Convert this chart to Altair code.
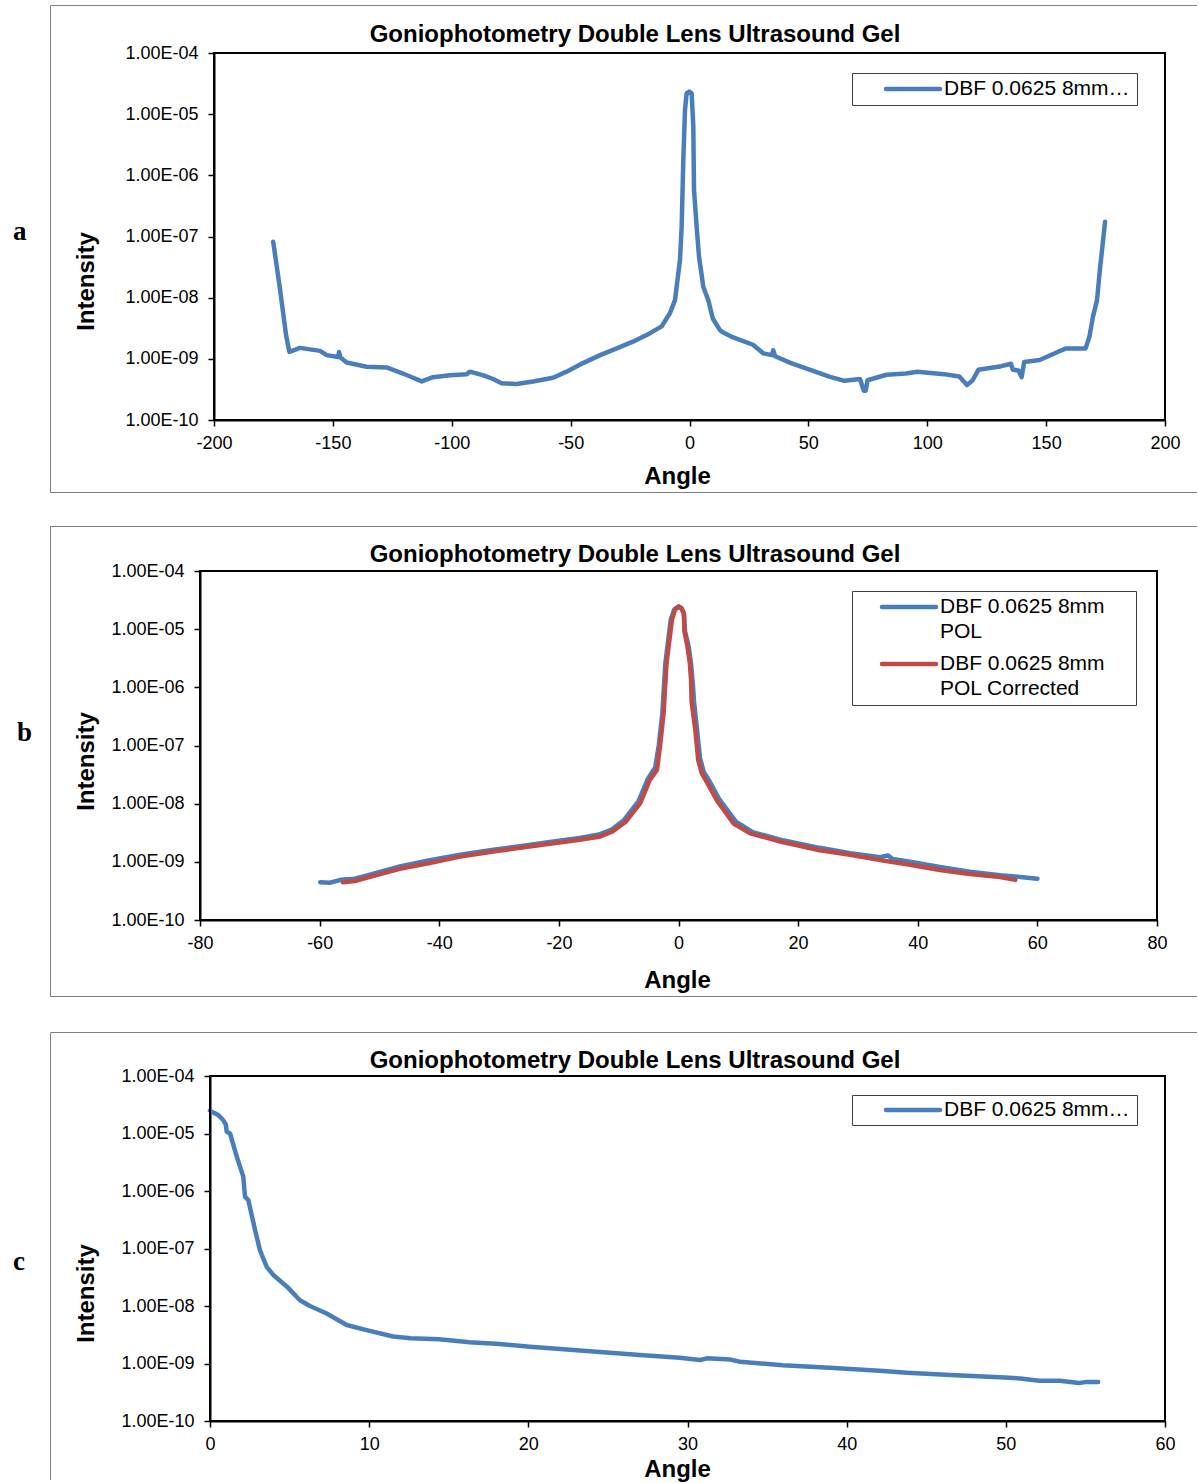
import altair as alt
import pandas as pd

FONT = "Liberation Sans"
SERIF = "Liberation Serif"
BLUE = "#4A7EBB"
RED = "#BE4B48"
FRAME = "#808080"
LEGEND_EDGE = "#3F3F3F"
PAGE_W = 1199
ORIGIN = 200          # common left edge of the three plot groups
PLOT_RIGHT = 1165     # widest right edge of the plot areas
TITLE = "Goniophotometry Double Lens Ultrasound Gel"
POL = "DBF 0.0625 8mm POL"
POL_CORR = "DBF 0.0625 8mm POL Corrected"
SERIES = [POL, POL_CORR]
SERIES_COLORS = [BLUE, RED]

Y_TICKS = [1e-10, 1e-9, 1e-8, 1e-7, 1e-6, 1e-5, 1e-4]
Y_LABEL = ("'1.00E-' + (round(-log(datum.value) / LN10) < 10 ? '0' : '') "
           "+ round(-log(datum.value) / LN10)")

# --- (a) full scan, -180..180 deg ---
a_angle = [-175.1, -172.2, -169.7, -168.3, -163.8, -155.4, -152.6, -147.8, -147.4, -146.8,
           -144.2, -135.8, -127.4, -120.5, -116.3, -112.6, -107.9, -100.7, -93.7, -92.3,
           -86.7, -82.6, -79.0, -72.7, -65.8, -57.4, -51.7, -44.8, -37.6, -30.6,
           -23.8, -16.6, -11.7, -8.2, -6.1, -4.0, -3.3, -2.6, -1.9, -1.2,
           -0.1, 0.9, 1.6, 1.9, 3.0, 4.0, 5.8, 7.9, 9.8, 12.8,
           13.8, 17.8, 26.7, 31.0, 34.7, 35.2, 36.0, 42.7, 50.8, 58.8,
           65.2, 71.7, 73.3, 74.1, 74.9, 82.9, 91.0, 95.8, 107.0, 113.5,
           116.7, 119.1, 121.5, 131.2, 135.2, 136.0, 138.4, 139.7, 140.8, 147.3,
           155.3, 158.5, 166.6, 168.2, 169.7, 171.4, 172.6, 174.8]
a_intensity = [8.22e-8, 1.35e-8, 2.45e-9, 1.30e-9, 1.51e-9, 1.35e-9, 1.15e-9, 1.07e-9, 1.29e-9, 1.05e-9,
               8.71e-10, 7.41e-10, 7.24e-10, 5.75e-10, 4.90e-10, 4.27e-10, 5.01e-10, 5.37e-10, 5.62e-10, 6.17e-10,
               5.37e-10, 4.68e-10, 3.98e-10, 3.89e-10, 4.27e-10, 4.90e-10, 6.17e-10, 8.51e-10, 1.15e-9, 1.48e-9,
               1.91e-9, 2.63e-9, 3.39e-9, 5.62e-9, 9.12e-9, 4.17e-8, 1.45e-7, 1.78e-6, 1.17e-5, 2.19e-5,
               2.34e-5, 2.19e-5, 6.31e-6, 5.75e-7, 1.45e-7, 4.68e-8, 1.51e-8, 9.12e-9, 4.57e-9, 2.95e-9,
               2.75e-9, 2.29e-9, 1.70e-9, 1.23e-9, 1.15e-9, 1.38e-9, 1.10e-9, 8.51e-10, 6.61e-10, 5.13e-10,
               4.37e-10, 4.68e-10, 3.02e-10, 3.02e-10, 4.47e-10, 5.50e-10, 5.75e-10, 6.17e-10, 5.62e-10, 5.13e-10,
               3.72e-10, 4.47e-10, 6.61e-10, 7.59e-10, 8.32e-10, 6.61e-10, 6.46e-10, 5.01e-10, 8.91e-10, 9.55e-10,
               1.32e-9, 1.48e-9, 1.48e-9, 2.29e-9, 4.90e-9, 9.12e-9, 2.82e-8, 1.74e-7]

# --- (b) measured vs corrected, -60..60 deg ---
b_pol_angle = [-59.9, -58.3, -56.5, -54.1, -51.6, -46.6, -41.6, -36.5, -31.5, -26.5,
               -21.5, -16.5, -13.3, -11.1, -9.1, -6.7, -5.1, -3.9, -3.3, -2.7,
               -2.2, -1.3, -0.7, 0.0, 0.5, 0.9, 1.1, 1.7, 2.1, 2.4,
               2.6, 3.1, 3.6, 4.2, 5.1, 6.8, 9.6, 12.4, 17.0, 23.6,
               28.7, 33.7, 35.0, 35.8, 38.7, 43.7, 48.7, 53.8, 57.1, 60.0]
b_pol_intensity = [4.47e-10, 4.37e-10, 4.90e-10, 5.13e-10, 6.03e-10, 8.32e-10, 1.07e-9, 1.32e-9, 1.58e-9, 1.86e-9,
                   2.19e-9, 2.57e-9, 2.95e-9, 3.63e-9, 5.25e-9, 1.10e-8, 2.69e-8, 4.17e-8, 1.00e-7, 3.55e-7,
                   2.57e-6, 1.45e-5, 2.19e-5, 2.45e-5, 2.29e-5, 1.86e-5, 9.12e-6, 5.01e-6, 2.57e-6, 1.12e-6,
                   5.62e-7, 1.86e-7, 6.03e-8, 3.55e-8, 2.51e-8, 1.20e-8, 4.90e-9, 3.24e-9, 2.40e-9, 1.74e-9,
                   1.41e-9, 1.20e-9, 1.29e-9, 1.12e-9, 1.00e-9, 8.13e-10, 6.76e-10, 5.89e-10, 5.50e-10, 5.13e-10]

b_corr_angle = [-56.1, -54.1, -51.6, -46.6, -41.6, -36.5, -31.5, -26.5, -21.5, -16.5,
                -13.3, -11.1, -8.8, -6.4, -4.8, -3.6, -3.1, -2.5, -2.0, -1.1,
                -0.6, 0.0, 0.5, 0.9, 1.0, 1.5, 1.9, 2.1, 2.2, 2.8,
                3.3, 3.9, 4.7, 6.4, 9.2, 12.0, 17.0, 23.6, 28.7, 33.7,
                38.7, 43.7, 48.7, 53.8, 56.3]
b_corr_intensity = [4.47e-10, 4.68e-10, 5.50e-10, 7.59e-10, 9.55e-10, 1.23e-9, 1.48e-9, 1.74e-9, 2.04e-9, 2.40e-9,
                    2.69e-9, 3.31e-9, 4.90e-9, 1.02e-8, 2.57e-8, 3.80e-8, 9.55e-8, 3.55e-7, 2.57e-6, 1.45e-5,
                    2.14e-5, 2.45e-5, 2.29e-5, 1.86e-5, 9.12e-6, 5.01e-6, 2.57e-6, 1.35e-6, 5.62e-7, 1.86e-7,
                    5.62e-8, 3.31e-8, 2.40e-8, 1.15e-8, 4.57e-9, 3.09e-9, 2.24e-9, 1.58e-9, 1.32e-9, 1.07e-9,
                    8.91e-10, 7.24e-10, 6.17e-10, 5.50e-10, 4.90e-10]

# --- (c) one-sided scan, 0..56 deg ---
c_angle = [0.0, 0.1, 0.52, 0.84, 1.0, 1.05, 1.26, 1.68, 2.09, 2.2,
           2.41, 2.83, 3.14, 3.56, 3.98, 4.82, 5.65, 6.28, 7.33, 8.59,
           9.84, 11.5, 12.6, 14.4, 16.3, 18.2, 20.1, 22.0, 24.5, 27.0,
           29.5, 30.8, 31.2, 32.7, 33.3, 36.0, 39.2, 42.3, 43.8, 46.5,
           49.6, 50.9, 52.1, 53.4, 54.6, 55.1, 55.8]
c_intensity = [2.51e-5, 2.40e-5, 2.09e-5, 1.70e-5, 1.41e-5, 1.07e-5, 1.00e-5, 3.98e-6, 1.78e-6, 7.94e-7,
               6.92e-7, 2.09e-7, 9.33e-8, 4.79e-8, 3.47e-8, 2.19e-8, 1.26e-8, 1.00e-8, 7.41e-9, 4.68e-9,
               3.80e-9, 2.95e-9, 2.75e-9, 2.63e-9, 2.34e-9, 2.19e-9, 1.95e-9, 1.78e-9, 1.58e-9, 1.41e-9,
               1.26e-9, 1.15e-9, 1.23e-9, 1.17e-9, 1.07e-9, 9.33e-10, 8.32e-10, 7.41e-10, 6.92e-10, 6.31e-10,
               5.75e-10, 5.50e-10, 5.01e-10, 5.01e-10, 4.57e-10, 4.79e-10, 4.79e-10]

ONE = pd.DataFrame({"k": [0]})


def px(abs_x):
    """Page x position -> x inside a plot group."""
    return abs_x - ORIGIN


def panel(series, x_domain, x_step, g, legend, letter):
    """One chart sheet: plot area, grey sheet frame, title, letter and legend box."""
    L, T, W, H = g["left"], g["top"], g["width"], g["height"]
    B = T + H
    rows = []
    for name, angles, values in series:
        rows += [{"Angle": a, "Intensity": v, "Series": name} for a, v in zip(angles, values)]
    df = pd.DataFrame(rows)

    base = alt.Chart(ONE)
    layers = []

    # transparent box that fixes the sheet's extent on the page
    # (inset by 1px: the renderer pads mark bounds by one pixel)
    layers.append(base.mark_rect(opacity=0).encode(
        x=alt.value(px(0) + 1), x2=alt.value(px(PAGE_W) - 1),
        y=alt.value(g["band"][0] - T + 1), y2=alt.value(g["band"][1] - T - 1)))

    # grey sheet frame; its right edge runs off the page
    ft = g["frame"][0] - T + 0.5
    fl = px(50) + 0.5
    fr = px(PAGE_W) - 2
    fb = (g["frame"][1] - T + 0.5) if g["frame"][1] is not None else (g["band"][1] - T - 3)
    rule = dict(color=FRAME, strokeWidth=1)
    layers.append(base.mark_rule(**rule).encode(
        x=alt.value(fl), x2=alt.value(fr), y=alt.value(ft)))
    layers.append(base.mark_rule(**rule).encode(
        x=alt.value(fl), y=alt.value(ft), y2=alt.value(fb)))
    if g["frame"][1] is not None:
        layers.append(base.mark_rule(**rule).encode(
            x=alt.value(fl), x2=alt.value(fr), y=alt.value(fb)))

    layers.append(base.mark_text(
        text=TITLE, font=FONT, fontSize=24, fontWeight="bold", color="black",
        align="center", baseline="alphabetic").encode(
        x=alt.value(px(635)), y=alt.value(g["title_y"] - T)))

    layers.append(base.mark_text(
        text=letter, font=SERIF, fontSize=27, fontWeight="bold", color="black",
        align="left", baseline="alphabetic").encode(
        x=alt.value(px(g["letter"][0])), y=alt.value(g["letter"][1] - T)))

    x_ticks = list(range(x_domain[0], x_domain[1] + 1, x_step))
    lines = alt.Chart(df).mark_line(
        strokeWidth=4.5, strokeCap="round", strokeJoin="round").encode(
        x=alt.X("Angle:Q",
                scale=alt.Scale(domain=x_domain, range=[px(L), px(L + W)],
                                nice=False, zero=False),
                axis=alt.Axis(values=x_ticks, labelExpr="'' + datum.value",
                              labelFlush=False, labelOverlap=False, labelPadding=8,
                              title="Angle", titleX=px(677), titleY=g["xtitle_y"] - B,
                              titleAlign="center", titleBaseline="alphabetic")),
        y=alt.Y("Intensity:Q",
                scale=alt.Scale(type="log", domain=[1e-10, 1e-4], nice=False),
                axis=alt.Axis(values=Y_TICKS, labelExpr=Y_LABEL, labelOverlap=False,
                              labelPadding=10, offset=-px(L),
                              title="Intensity", titleAngle=270,
                              titleX=93 - L, titleY=g["ytitle_y"] - T,
                              titleAlign="center", titleBaseline="alphabetic")),
        color=alt.Color("Series:N",
                        scale=alt.Scale(domain=SERIES, range=SERIES_COLORS),
                        legend=None),
    )
    layers.append(lines)

    # black plot-area border
    layers.append(base.mark_rect(fill="white", fillOpacity=0, stroke="black", strokeWidth=2).encode(
        x=alt.value(px(L)), x2=alt.value(px(L + W)), y=alt.value(0), y2=alt.value(H)))

    # legend box
    x0, x1, y0, y1 = legend["box"]
    layers.append(base.mark_rect(fill="white", stroke=LEGEND_EDGE, strokeWidth=1).encode(
        x=alt.value(px(x0) + 0.5), x2=alt.value(px(x1) + 0.5),
        y=alt.value(y0 - T + 0.5), y2=alt.value(y1 - T + 0.5)))
    for text, color, sym_y, sx0, sx1, tx in legend["entries"]:
        layers.append(base.mark_rule(color=color, strokeWidth=4.5, strokeCap="round").encode(
            x=alt.value(px(sx0)), x2=alt.value(px(sx1)), y=alt.value(sym_y - T)))
        layers.append(base.mark_text(
            text=text, font=FONT, fontSize=21, color="black", align="left",
            baseline="middle", lineHeight=25, limit=188).encode(
            x=alt.value(px(tx)), y=alt.value(sym_y - T)))

    return alt.layer(*layers).properties(width=PLOT_RIGHT - ORIGIN, height=H)


panel_a = panel(
    [(POL, a_angle, a_intensity)], [-200, 200], 50,
    dict(left=214, top=53, width=951, height=367, band=(0, 509), frame=(5, 492),
         title_y=42, letter=(13, 240), xtitle_y=483, ytitle_y=281),
    dict(box=(852, 1137, 73, 105),
         entries=[(POL, BLUE, 89, 886, 940, 944)]),
    "a")

panel_b = panel(
    [(POL, b_pol_angle, b_pol_intensity),
     (POL_CORR, b_corr_angle, b_corr_intensity)], [-80, 80], 20,
    dict(left=200, top=571, width=957, height=349, band=(509, 1014), frame=(526, 996),
         title_y=562, letter=(17, 741), xtitle_y=987, ytitle_y=761),
    dict(box=(852, 1136, 591, 705),
         entries=[(["DBF 0.0625 8mm", "POL"], BLUE, 607, 882, 936, 940),
                  (["DBF 0.0625 8mm", "POL Corrected"], RED, 664, 882, 936, 940)]),
    "b")

panel_c = panel(
    [(POL, c_angle, c_intensity)], [0, 60], 10,
    dict(left=210, top=1076, width=955, height=345, band=(1014, 1483), frame=(1032, None),
         title_y=1068, letter=(13, 1270), xtitle_y=1476, ytitle_y=1293),
    dict(box=(852, 1137, 1095, 1125),
         entries=[(POL, BLUE, 1110, 886, 940, 944)]),
    "c")

chart = alt.vconcat(panel_a, panel_b, panel_c, spacing=0).properties(
    padding=0, background="white"
).configure_view(
    stroke="transparent"
).configure_axis(
    grid=False, domainColor="black", domainWidth=2,
    tickColor="black", tickWidth=1.5, tickSize=6,
    labelFont=FONT, labelFontSize=18, labelColor="black",
    titleFont=FONT, titleFontSize=24, titleFontWeight="bold", titleColor="black",
)

chart.save("out.html", embed_options={"renderer": "svg", "actions": False})
